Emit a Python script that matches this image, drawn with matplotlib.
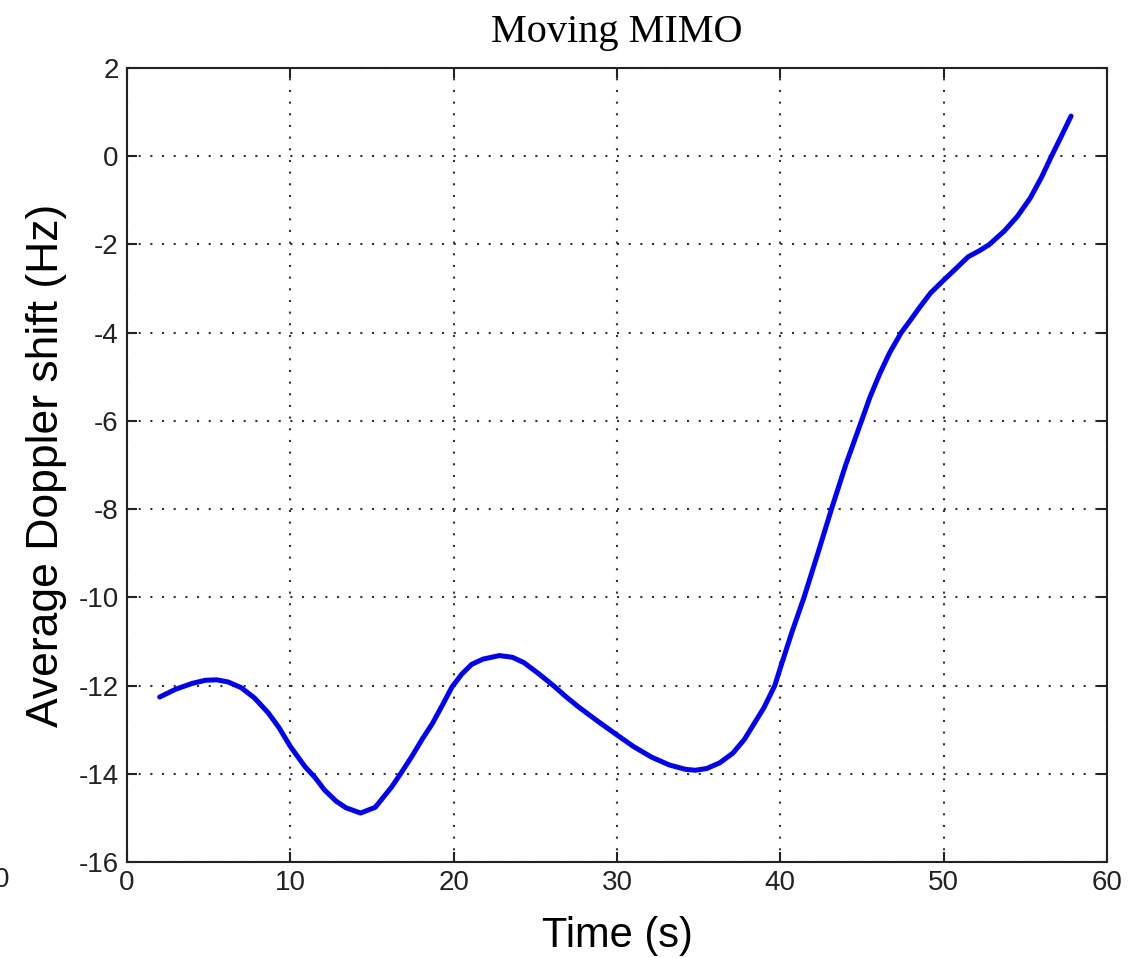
import matplotlib
matplotlib.use("Agg")
import matplotlib.pyplot as plt

time_s = [2.0, 3.0, 4.0, 4.8, 5.5, 6.2, 7.0, 7.8, 8.65, 9.3, 10.0, 10.9, 11.5,
          12.1, 12.8, 13.4, 14.3, 15.2, 16.2, 16.75, 17.45, 18.1, 18.7, 19.3,
          19.9, 20.5, 21.1, 21.8, 22.8, 23.6, 24.3, 25.2, 26.1, 26.9, 27.7, 28.9,
          30.0, 31.0, 32.1, 33.2, 34.2, 34.8, 35.5, 36.3, 37.1, 37.8, 38.3, 39.0,
          39.66, 40.0, 40.7, 41.45, 42.3, 43.13, 44.0, 44.97, 45.5, 46.1, 46.7,
          47.4, 48.0, 48.5, 49.2, 50.0, 50.8, 51.5, 52.2, 52.8, 53.7, 54.5, 55.3,
          56.0, 56.6, 57.2, 57.8]
doppler_hz = [-12.26, -12.08, -11.95, -11.88, -11.87, -11.92, -12.05, -12.28,
              -12.62, -12.95, -13.38, -13.84, -14.08, -14.37, -14.62, -14.77,
              -14.89, -14.76, -14.3, -14.0, -13.6, -13.2, -12.86, -12.45, -12.03,
              -11.74, -11.52, -11.4, -11.32, -11.36, -11.48, -11.73, -12.0, -12.26,
              -12.5, -12.83, -13.12, -13.38, -13.62, -13.8, -13.9, -13.92, -13.88,
              -13.75, -13.53, -13.22, -12.92, -12.5, -12.0, -11.6, -10.8, -10.0,
              -9.0, -8.0, -7.0, -6.0, -5.45, -4.92, -4.45, -4.0, -3.7, -3.44, -3.1,
              -2.81, -2.53, -2.28, -2.14, -2.0, -1.7, -1.37, -0.95, -0.47, 0.0,
              0.45, 0.91]
x_ticks = [0, 10, 20, 30, 40, 50, 60]
y_ticks = [-16, -14, -12, -10, -8, -6, -4, -2, 0, 2]

fig = plt.figure(figsize=(11.48, 9.58), dpi=100)
ax = fig.add_axes([127/1148, 1 - 862/958, (1107 - 127)/1148, (862 - 68)/958])

ax.plot(time_s, doppler_hz, color="#0000ff", lw=3.6, solid_capstyle="round",
        solid_joinstyle="round")

ax.set_xlim(0, 60)
ax.set_ylim(-16, 2)
ax.set_xticks(x_ticks)
ax.set_yticks(y_ticks)
ax.set_xticklabels([str(v) for v in x_ticks])
ax.set_yticklabels([str(v) for v in y_ticks])

ax.grid(True, color="#333333", linestyle=(0, (1, 4.6)), linewidth=1.5)
for s in ax.spines.values():
    s.set_linewidth(1.5)
    s.set_color("#222222")
ax.tick_params(direction="in", length=7, width=1.5, top=True, right=True,
               labelsize=20, colors="#222222", pad=6)
for lab in ax.get_xticklabels() + ax.get_yticklabels():
    lab.set_fontfamily("Liberation Sans")
    lab.set_color("#222222")

ax.set_title("Moving MIMO", fontfamily="Liberation Serif", fontsize=29, pad=19)
ax.set_xlabel("Time (s)", fontfamily="Liberation Sans", fontsize=30, labelpad=14)
ax.set_ylabel("Average Doppler shift (Hz)", fontfamily="Liberation Sans",
              fontsize=32, labelpad=8)

fig.text(2/1148, 1 - 880/958, "0", fontfamily="Liberation Sans", fontsize=20,
         ha="center", va="center", color="#222222")

fig.savefig("out.png", dpi=100, facecolor="white")
